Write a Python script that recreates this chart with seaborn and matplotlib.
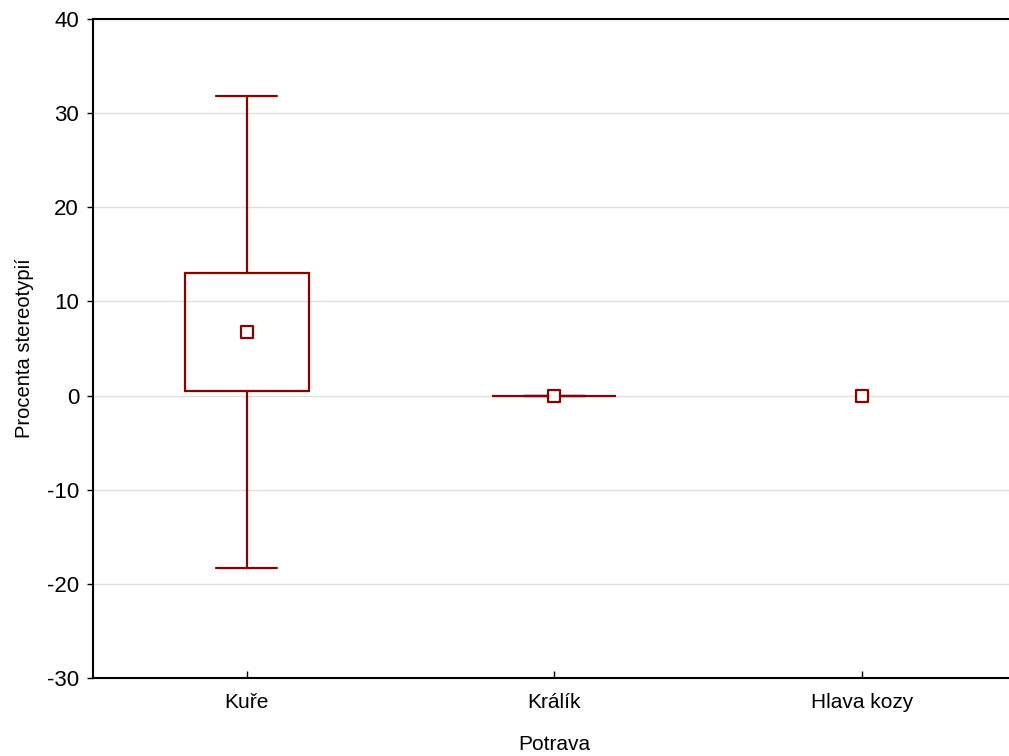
import matplotlib
matplotlib.use("Agg")
import matplotlib.pyplot as plt
import seaborn as sns
import pandas as pd

categories = ["Kuře", "Králík", "Hlava kozy"]
means = [6.76, 0.0, 0.0]
se = [6.27, 0.0, None]
sd = [25.1, 0.0, None]
yticks = [-30, -20, -10, 0, 10, 20, 30, 40]

sns.set_theme(style="white")
plt.rcParams['font.family'] = ['Liberation Sans', 'DejaVu Sans']

color = "#8b0000"
fig = plt.figure(figsize=(10.09, 7.56), dpi=100)
ax = fig.add_axes([93/1009, (756-678)/756, (1015.5-93)/1009, (678-19)/756])

df = pd.DataFrame({"Potrava": categories, "mean": means})
x = list(range(len(categories)))

box_w = 0.403
cap_w = 0.198
for i in x:
    if sd[i] is not None:
        m = means[i]
        ax.plot([i, i], [m + se[i], m + sd[i]], color=color, lw=1.6, zorder=3)
        ax.plot([i, i], [m - se[i], m - sd[i]], color=color, lw=1.6, zorder=3)
        ax.plot([i - cap_w/2, i + cap_w/2], [m + sd[i]]*2, color=color, lw=1.6, zorder=3)
        ax.plot([i - cap_w/2, i + cap_w/2], [m - sd[i]]*2, color=color, lw=1.6, zorder=3)
    if se[i] is not None:
        m = means[i]
        ax.add_patch(plt.Rectangle((i - box_w/2, m - se[i]), box_w, 2*se[i],
                                   fill=False, edgecolor=color, lw=1.6, zorder=3))

sns.scatterplot(data=df, x="Potrava", y="mean", marker="s", s=70, facecolor="white",
                edgecolor=color, linewidth=1.6, ax=ax, zorder=4)

ax.set_xlim(-0.5, 2.5)
ax.set_ylim(-30, 40)
ax.set_yticks(yticks)
ax.set_yticklabels([str(t) for t in yticks])
ax.yaxis.grid(True, color="#e0e0e0", lw=1)
ax.set_axisbelow(True)
for s in ["left", "bottom", "top"]:
    ax.spines[s].set_visible(True)
    ax.spines[s].set_color("black")
    ax.spines[s].set_linewidth(1.5)
ax.spines["right"].set_visible(False)
ax.tick_params(axis="y", direction="out", length=4, width=1, left=True, labelsize=16, colors="black", pad=6)
ax.tick_params(axis="x", direction="in", length=5, width=1, bottom=True, labelsize=15, colors="black", pad=11)
ax.set_xlabel("Potrava", fontsize=15, labelpad=16, color="black")
ax.set_ylabel("Procenta stereotypií", fontsize=14.5, labelpad=9, color="black")

fig.savefig("out.png", dpi=100)
